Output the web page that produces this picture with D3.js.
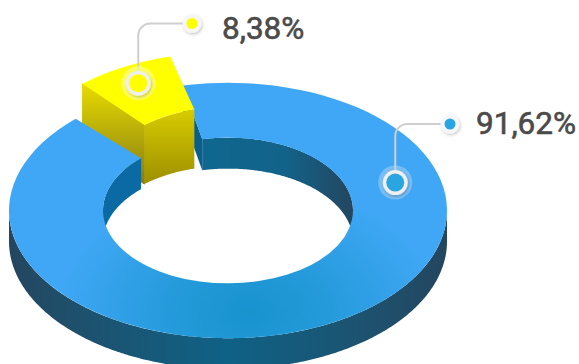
<!DOCTYPE html>
<html><head><meta charset="utf-8">
<script src="https://cdn.jsdelivr.net/npm/d3@7"></script>
<style>html,body{margin:0;background:#fff}svg{display:block}</style>
</head><body><div id="c"></div>
<script>
const categories = ["Azul", "Amarillo"];
const values = [91.62, 8.38];
const colors = ["#3FA7F5", "#FFFF00"];

const W = 579, H = 364;
const deg = Math.PI / 180;
const cx = 228, cy = 210.5, squash = 0.583, rOuter = 219, rInner = 125, depth = 31;
const lift = { dx: -1.5, dy: -30.5, depth: 59 };
const startDeg = -43.07, padBlue = 1, padYellow = 2;

const svg = d3.select("#c").append("svg").attr("width", W).attr("height", H);
const defs = svg.append("defs");

function linear(id, x1, y1, x2, y2, stops) {
  const g = defs.append("linearGradient").attr("id", id).attr("gradientUnits", "userSpaceOnUse")
    .attr("x1", x1).attr("y1", y1).attr("x2", x2).attr("y2", y2);
  stops.forEach(([o, c]) => g.append("stop").attr("offset", o).attr("stop-color", c));
}
linear("gOuter", cx - rOuter, 0, cx + rOuter, 0, [[0, "#24465F"], [.2, "#1C5370"], [.5, "#0F6186"], [.8, "#1C5370"], [1, "#24465F"]]);
linear("gInnerR", 200, 0, 353, 0, [[0, "#0F678F"], [.55, "#12638A"], [1, "#24465F"]]);
linear("gYFront", 0, 108, 0, 185, [[0, "#D9CD00"], [1, "#9C8E00"]]);
linear("gYLeft", 0, 86, 0, 185, [[0, "#E6DA00"], [1, "#857A14"]]);
// the top face is drawn in a squashed frame centred on the ring, so the gradient is set in that frame
const rg = defs.append("radialGradient").attr("id", "gTop").attr("gradientUnits", "userSpaceOnUse")
  .attr("cx", 0).attr("cy", 0).attr("r", 1)
  .attr("gradientTransform", `translate(${248 - cx},${(312 - cy) / squash}) scale(190,${130 / squash})`);
[[0, "#1893CE"], [.35, "#2299D8"], [1, colors[0]]].forEach(([o, c]) => rg.append("stop").attr("offset", o).attr("stop-color", c));
const f = defs.append("filter").attr("id", "sh").attr("x", "-50%").attr("y", "-50%").attr("width", "200%").attr("height", "200%");
f.append("feDropShadow").attr("dx", 1).attr("dy", 1.5).attr("stdDeviation", 1.6).attr("flood-color", "#000").attr("flood-opacity", .22);

const pie = d3.pie().sort(null).value(d => d)
  .startAngle((startDeg + 360 * values[1] / 100) * deg)
  .endAngle((startDeg + 360 * values[1] / 100 + 360) * deg);
const [blue, yellow] = pie(values);
const b0 = blue.startAngle + padBlue * deg, b1 = blue.endAngle - padBlue * deg;
const y0 = yellow.startAngle + padYellow * deg, y1 = yellow.endAngle - padYellow * deg;

const px = (a, r, o = cx) => o + r * Math.sin(a);
const py = (a, r, o = cy) => o - r * squash * Math.cos(a);

function wall(a0, a1, r, ox, oy, d) {
  const pts = d3.range(a0, a1, 0.01).concat([a1]);
  return d3.area().x(a => px(a, r, ox)).y0(a => py(a, r, oy)).y1(a => py(a, r, oy) + d)(pts);
}
function side(a, r0, r1, ox, oy, d) {
  return d3.area().x(r => px(a, r, ox)).y0(r => py(a, r, oy)).y1(r => py(a, r, oy) + d)([r0, r1]);
}
function topFace(a0, a1, ox, oy, fill) {
  svg.append("path")
    .attr("d", d3.arc().innerRadius(rInner).outerRadius(rOuter).startAngle(a0).endAngle(a1)())
    .attr("transform", `translate(${ox},${oy}) scale(1,${squash})`)
    .attr("fill", fill);
}
const yx = cx + lift.dx, yy = cy + lift.dy;

// yellow left face sits behind the blue ring; a hairline stroke closes the seam with the front face
svg.append("path").attr("d", side(y0, rOuter, rInner, yx, yy, lift.depth))
  .attr("fill", "url(#gYLeft)").attr("stroke", "url(#gYLeft)").attr("stroke-width", 1);

// blue outer wall
svg.append("path").attr("d", wall(90 * deg, 270 * deg, rOuter, cx, cy, depth)).attr("fill", "url(#gOuter)");
// blue inner wall, both sides of the gap
svg.append("path").attr("d", wall(-90 * deg, b1 - 360 * deg, rInner, cx, cy, depth)).attr("fill", "#0B6AA3");
svg.append("path").attr("d", wall(b0, 90 * deg, rInner, cx, cy, depth)).attr("fill", "url(#gInnerR)");
// blue radial end face
svg.append("path").attr("d", side(b0, rOuter, rInner, cx, cy, depth)).attr("fill", "#0A5E8C");
// blue top
topFace(b0, b1, cx, cy, "url(#gTop)");

// yellow front and top
svg.append("path").attr("d", wall(y0, y1, rInner, yx, yy, lift.depth)).attr("fill", "url(#gYFront)");
topFace(y0, y1, yx, yy, colors[1]);

// callouts
const fmt = d3.formatLocale({ decimal: ",", thousands: ".", grouping: [3], currency: ["", ""] }).format(".2f");
const callouts = [
  { i: 1, mx: px((y0 + y1) / 2, 188, yx), my: py((y0 + y1) / 2, 188, yy), ex: 192, ey: 23.5, tx: 222, ty: 39, dot: colors[1], ring: "rgba(255,255,190,.5)" },
  { i: 0, mx: px(74 * deg, 174), my: py(74 * deg, 174), ex: 450, ey: 124, tx: 476, ty: 134, dot: "#29A6E2", ring: "rgba(190,220,245,.45)" }
];
callouts.forEach(c => {
  const p = d3.path();
  p.moveTo(c.mx, c.my - 10);
  p.arcTo(c.mx, c.ey, c.mx + 12, c.ey, 12);
  p.lineTo(c.ex, c.ey);
  svg.append("path").attr("d", p.toString()).attr("fill", "none").attr("stroke", "#CFCFCF").attr("stroke-width", 2);
  svg.append("circle").attr("cx", c.mx).attr("cy", c.my).attr("r", 17).attr("fill", c.ring);
  svg.append("circle").attr("cx", c.mx).attr("cy", c.my).attr("r", 12.5).attr("fill", "#EFEFEF").attr("filter", "url(#sh)");
  svg.append("circle").attr("cx", c.mx).attr("cy", c.my).attr("r", 9).attr("fill", c.dot);
  svg.append("circle").attr("cx", c.ex).attr("cy", c.ey).attr("r", 9.5).attr("fill", "#F6F6F6").attr("filter", "url(#sh)");
  svg.append("circle").attr("cx", c.ex).attr("cy", c.ey).attr("r", 5.5).attr("fill", c.dot);
  svg.append("text").attr("x", c.tx).attr("y", c.ty)
    .attr("font-family", "Roboto").attr("font-size", 31.5).attr("font-weight", 400).attr("fill", "#4A4A4A")
    .attr("stroke", "#4A4A4A").attr("stroke-width", .6)
    .text(fmt(values[c.i]) + "%");
});
</script></body></html>
